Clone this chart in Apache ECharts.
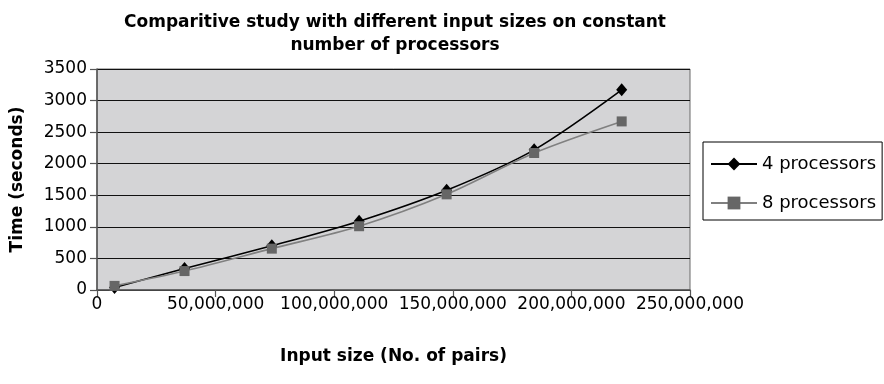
<!DOCTYPE html>
<html>
<head>
<meta charset="utf-8">
<script src="https://cdn.jsdelivr.net/npm/echarts@6/dist/echarts.min.js"></script>
<style>html,body{margin:0;padding:0;background:#fff;}#c{width:884px;height:384px;}</style>
</head>
<body>
<div id="c"></div>
<script>
var inputSizes = [7400000, 36900000, 73700000, 110500000, 147400000, 184300000, 221200000];
var proc4 = [40, 340, 700, 1090, 1580, 2220, 3170];
var proc8 = [65, 300, 655, 1010, 1515, 2170, 2670];
var seriesNames = ['4 processors', '8 processors'];
var titleText = 'Comparitive study with different input sizes on constant\nnumber of processors';
var xName = 'Input size (No. of pairs)';
var yName = 'Time (seconds)';

function pairs(xs, ys) { return xs.map(function (x, i) { return [x, ys[i]]; }); }
function fmt(v) { return String(v).replace(/\B(?=(\d{3})+(?!\d))/g, ','); }

var FONT = 'DejaVu Sans';
var chart = echarts.init(document.getElementById('c'), null, { renderer: 'canvas' });
chart.setOption({
  animation: false,
  backgroundColor: '#ffffff',
  textStyle: { fontFamily: FONT },
  title: {
    text: titleText,
    left: 390,
    textAlign: 'center',
    top: 6,
    textStyle: { fontFamily: FONT, fontWeight: 'bold', fontSize: 17, color: '#000', lineHeight: 23 }
  },
  legend: {
    orient: 'vertical',
    left: 703,
    top: 142,
    padding: [13, 6, 8, 7],
    itemGap: 21,
    itemWidth: 46,
    itemHeight: 16,
    borderColor: '#000',
    borderWidth: 1,
    backgroundColor: '#fff',
    textStyle: { fontFamily: FONT, fontSize: 18, color: '#000', lineHeight: 18 },
    data: seriesNames
  },
  grid: {
    left: 97, right: 194, top: 69, bottom: 94,
    show: true,
    backgroundColor: '#d4d4d6',
    borderColor: '#6a6a6a',
    borderWidth: 1
  },
  xAxis: {
    type: 'value',
    min: 0, max: 250000000, interval: 50000000,
    name: xName,
    nameLocation: 'middle',
    nameGap: 58,
    nameTextStyle: { fontFamily: FONT, fontWeight: 'bold', fontSize: 17, color: '#000' },
    axisLine: { show: true, lineStyle: { color: '#555', width: 1.5 } },
    axisTick: { show: true, inside: false, length: 7, lineStyle: { color: '#555', width: 1.2 } },
    axisLabel: { fontFamily: FONT, fontSize: 17, color: '#000', margin: 6, formatter: fmt },
    splitLine: { show: false }
  },
  yAxis: {
    type: 'value',
    min: 0, max: 3500, interval: 500,
    name: yName,
    nameLocation: 'middle',
    nameGap: 71,
    nameRotate: 90,
    nameTextStyle: { fontFamily: FONT, fontWeight: 'bold', fontSize: 17, color: '#000' },
    axisLine: { show: true, lineStyle: { color: '#555', width: 1.5 } },
    axisTick: { show: true, inside: false, length: 7, lineStyle: { color: '#555', width: 1.2 } },
    axisLabel: { fontFamily: FONT, fontSize: 17, color: '#000', margin: 10, formatter: function (v) { return String(v); } },
    splitLine: { show: true, lineStyle: { color: '#111', width: 1.2 } }
  },
  series: [
    {
      name: seriesNames[0],
      type: 'line',
      data: pairs(inputSizes, proc4),
      smooth: 0.3,
      symbol: 'diamond',
      symbolSize: [11, 13],
      lineStyle: { color: '#000', width: 1.6 },
      itemStyle: { color: '#000' }
    },
    {
      name: seriesNames[1],
      type: 'line',
      data: pairs(inputSizes, proc8),
      smooth: 0.3,
      symbol: 'rect',
      symbolSize: 10,
      lineStyle: { color: '#808080', width: 1.6 },
      itemStyle: { color: '#666666' }
    }
  ]
});
</script>
</body>
</html>
